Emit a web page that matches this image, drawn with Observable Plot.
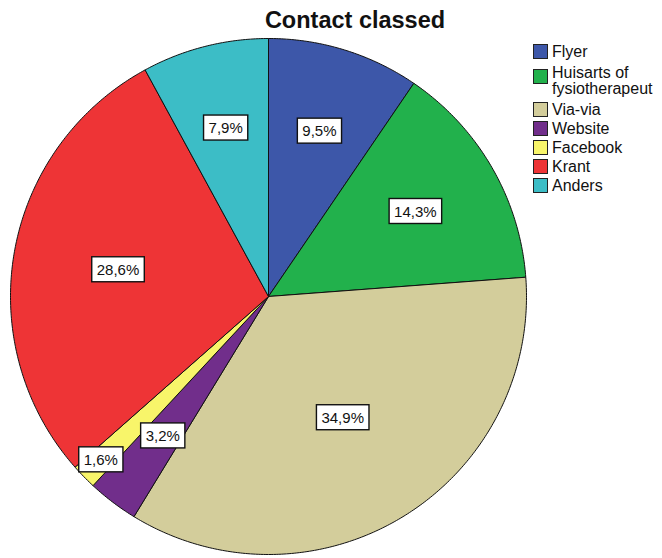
<!DOCTYPE html>
<html><head><meta charset="utf-8">
<script src="https://cdn.jsdelivr.net/npm/d3@7"></script>
<script src="https://cdn.jsdelivr.net/npm/@observablehq/plot@0.6"></script>
<style>
body{margin:0;background:#fff;font-family:"Liberation Sans",Arial,sans-serif;}
#wrap{position:relative;width:662px;height:558px;overflow:hidden;}
#title{position:absolute;left:255px;width:200px;top:7px;text-align:center;font-weight:bold;font-size:23.5px;color:#111;white-space:nowrap;}
#legend{position:absolute;left:533px;top:44px;font-size:16px;color:#111;}
.item{display:flex;align-items:flex-start;height:19px;line-height:16px;white-space:nowrap;}
.item.two{height:39px;padding-top:2px;box-sizing:border-box;}
.sw{width:15px;height:15px;border:1px solid #222;margin-right:4px;margin-top:0px;flex:none;box-sizing:border-box;}
.item.two .sw{margin-top:4px;}
</style></head><body>
<div id="wrap"><div id="title">Contact classed</div><div id="legend"></div></div>
<script>
const categories = ["Flyer","Huisarts of fysiotherapeut","Via-via","Website","Facebook","Krant","Anders"];
const counts = [6, 9, 22, 2, 1, 18, 5];
const colors = ["#3d57a9","#22b14c","#d3cd9b","#712e8b","#f8f56a","#ee3436","#3cbdc6"];
const legendLabels = [["Flyer"],["Huisarts of","fysiotherapeut"],["Via-via"],["Website"],["Facebook"],["Krant"],["Anders"]];

const total = d3.sum(counts);
let acc = 0;
const slices = categories.map((c,i)=>{
  const a0 = acc/total*2*Math.PI; acc += counts[i];
  const a1 = acc/total*2*Math.PI;
  return {cat:c, a0, a1, frac:counts[i]/total};
});
const poly = [];
for (const s of slices) {
  poly.push({cat:s.cat, x:0, y:0});
  const n = Math.max(2, Math.ceil((s.a1-s.a0)/0.01));
  for (let k=0;k<=n;k++){ const a = s.a0+(s.a1-s.a0)*k/n; poly.push({cat:s.cat, x:Math.sin(a), y:Math.cos(a)}); }
  poly.push({cat:s.cat, x:0, y:0});
}
const labels = slices.map(s=>{
  const al = (s.a1-s.a0)/2, m = (s.a0+s.a1)/2;
  let r = 2*Math.sin(al)/(3*al);
  if (s.frac < 0.02) r = 0.89;
  r *= 1.02;
  return {x:r*Math.sin(m), y:r*Math.cos(m), text:(s.frac*100).toFixed(1).replace(".",",")+"%"};
});

const chart = Plot.plot({
  width:662, height:558,
  marginLeft:10, marginRight:136, marginTop:38, marginBottom:4,
  x:{domain:[-1,1], axis:null},
  y:{domain:[-1,1], axis:null},
  color:{domain:categories, range:colors},
  style:{fontFamily:"Liberation Sans, Arial, sans-serif", background:"#fff"},
  marks:[
    Plot.line(poly,{x:"x",y:"y",z:"cat",fill:"cat",stroke:"#111",strokeWidth:1,strokeLinejoin:"round"}),
    Plot.text(labels,{x:"x",y:"y",text:"text",fontSize:15,fill:"#111",className:"lbl"})
  ]
});
document.getElementById("wrap").prepend(chart);
chart.style.position="absolute"; chart.style.left="0"; chart.style.top="0";
// white boxes behind labels
chart.querySelectorAll(".lbl text").forEach(t=>{
  const b = t.getBBox();
  const r = document.createElementNS("http://www.w3.org/2000/svg","rect");
  r.setAttribute("x", b.x-5); r.setAttribute("y", b.y-4);
  r.setAttribute("width", b.width+10); r.setAttribute("height", b.height+8);
  r.setAttribute("fill","#fff"); r.setAttribute("stroke","#111"); r.setAttribute("stroke-width","1.4");
  if (t.getAttribute("transform")) r.setAttribute("transform", t.getAttribute("transform"));
  t.parentNode.insertBefore(r, t);
});
const lg = document.getElementById("legend");
categories.forEach((c,i)=>{
  const d = document.createElement("div");
  d.className = "item"+(legendLabels[i].length>1?" two":"");
  d.innerHTML = `<div class="sw" style="background:${colors[i]}"></div><div>${legendLabels[i].join("<br>")}</div>`;
  lg.appendChild(d);
});
</script></body></html>
